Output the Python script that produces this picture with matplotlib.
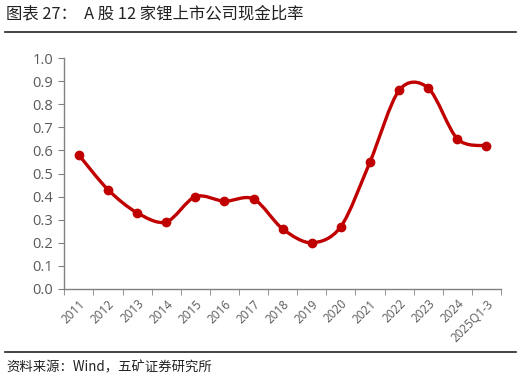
import numpy as np
import matplotlib
matplotlib.use("Agg")
import matplotlib.pyplot as plt
from matplotlib.path import Path
from matplotlib.patches import PathPatch
from matplotlib.lines import Line2D

plt.rcParams['font.family'] = ['Noto Sans CJK SC', 'DejaVu Sans']

years = ["2011", "2012", "2013", "2014", "2015", "2016", "2017", "2018",
         "2019", "2020", "2021", "2022", "2023", "2024", "2025Q1-3"]
cash_ratio = [0.58, 0.43, 0.33, 0.29, 0.40, 0.38, 0.39, 0.26,
              0.20, 0.27, 0.55, 0.86, 0.87, 0.65, 0.62]
yticks = [0.0, 0.1, 0.2, 0.3, 0.4, 0.5, 0.6, 0.7, 0.8, 0.9, 1.0]

RED = "#C00000"
GRAY = "#808080"
W, H = 522, 380


def smooth_path(x, y):
    # Excel-style smoothing: Catmull-Rom as cubic Bezier segments
    pts = np.column_stack([x, y]).astype(float)
    n = len(pts)
    verts = [pts[0]]
    codes = [Path.MOVETO]
    for i in range(n - 1):
        p0 = pts[max(i - 1, 0)]
        p1 = pts[i]
        p2 = pts[i + 1]
        p3 = pts[min(i + 2, n - 1)]
        c1 = p1 + (p2 - p0) / 6.5
        c2 = p2 - (p3 - p1) / 6.5
        verts += [c1, c2, p2]
        codes += [Path.CURVE4] * 3
    return Path(verts, codes)


fig = plt.figure(figsize=(W / 100, H / 100), dpi=100)
ax = fig.add_axes([64.3 / W, 1 - 289 / H, (501 - 64.3) / W, (289 - 58) / H])

x = np.arange(len(years))
ax.add_patch(PathPatch(smooth_path(x, cash_ratio), facecolor="none",
                       edgecolor=RED, lw=2.4, capstyle="round", zorder=2))
ax.plot(x, cash_ratio, ls="none", marker="o", ms=6, color=RED, zorder=3)

ax.set_xlim(-0.5, len(years) - 0.5)
ax.set_ylim(0, 1.0)
ax.set_yticks(yticks)
ax.set_yticklabels([f"{v:.1f}" for v in yticks])
ax.set_xticks(x)
ax.set_xticklabels(years, rotation=45, ha="right", rotation_mode="anchor")
ax.set_xticks(np.arange(len(years) + 1) - 0.5, minor=True)

for s in ["top", "right"]:
    ax.spines[s].set_visible(False)
for s in ["left", "bottom"]:
    ax.spines[s].set_color(GRAY)
    ax.spines[s].set_linewidth(1.0)
ax.tick_params(axis="y", colors=GRAY, labelcolor="#595959", labelsize=10.5,
               length=4, direction="out", pad=4)
ax.tick_params(axis="x", which="major", length=0, labelcolor="#595959",
               labelsize=8.5, pad=6)
ax.tick_params(axis="x", which="minor", length=4, color=GRAY, direction="out")
for lab in ax.get_yticklabels():
    lab.set_family(["Open Sans", "DejaVu Sans"])
for lab in ax.get_xticklabels():
    lab.set_family(["Open Sans", "DejaVu Sans"])

fig.text(6 / W, 1 - 14 / H, "图表 27：  A 股 12 家锂上市公司现金比率", fontsize=11.8,
         va="center", ha="left", color="#222222")
fig.add_artist(Line2D([5 / W, 516 / W], [1 - 32 / H, 1 - 32 / H], color="#222222", lw=1.2))
fig.add_artist(Line2D([5 / W, 516 / W], [1 - 352 / H, 1 - 352 / H], color="#222222", lw=1.2))
fig.text(6 / W, 1 - 367 / H, "资料来源：Wind，五矿证券研究所", fontsize=9.6,
         va="center", ha="left", color="#222222")

fig.savefig("out.png", dpi=100)
